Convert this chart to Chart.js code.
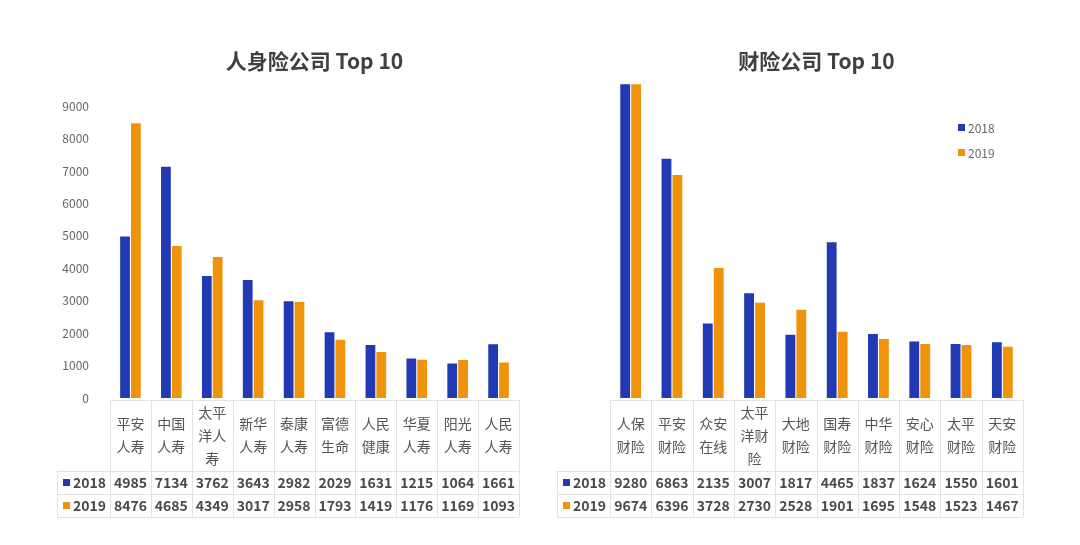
<!DOCTYPE html>
<html>
<head>
<meta charset="utf-8">
<script src="https://cdn.jsdelivr.net/npm/chart.js@4"></script>
<style>
html,body{margin:0;padding:0;background:#fff;}
#wrap{position:relative;width:1080px;height:545px;background:#fff;}
canvas{position:absolute;top:0;}
</style>
</head>
<body>
<div id="wrap">
<canvas id="c1" width="540" height="545" style="left:0"></canvas>
<canvas id="c2" width="540" height="545" style="left:540px"></canvas>
</div>
<script>
// ---------- data ----------
const lifeTitle = '人身险公司 Top 10';
const propTitle = '财险公司 Top 10';
const seriesNames = ['2018', '2019'];
const lifeCategories = [['平安','人寿'],['中国','人寿'],['太平','洋人','寿'],['新华','人寿'],['泰康','人寿'],['富德','生命'],['人民','健康'],['华夏','人寿'],['阳光','人寿'],['人民','人寿']];
const life2018 = [4985, 7134, 3762, 3643, 2982, 2029, 1631, 1215, 1064, 1661];
const life2019 = [8476, 4685, 4349, 3017, 2958, 1793, 1419, 1176, 1169, 1093];
const propCategories = [['人保','财险'],['平安','财险'],['众安','在线'],['太平','洋财','险'],['大地','财险'],['国寿','财险'],['中华','财险'],['安心','财险'],['太平','财险'],['天安','财险']];
const prop2018 = [9280, 6863, 2135, 3007, 1817, 4465, 1837, 1624, 1550, 1601];
const prop2019 = [9674, 6396, 3728, 2730, 2528, 1901, 1695, 1548, 1523, 1467];
const yTicks = [0, 1000, 2000, 3000, 4000, 5000, 6000, 7000, 8000, 9000];

// ---------- style ----------
const BLUE = '#2139b3';
const ORANGE = '#ef930b';
const FONT = '"Noto Sans CJK SC", "Noto Sans", sans-serif';
const LINE = '#e2e2e2';

const tablePlugin = {
  id: 'dataTable',
  afterDraw(chart, args, o) {
    const {ctx, chartArea, scales: {x}} = chart;
    const cats = chart.data.labels;
    const n = cats.length;
    const colW = (chartArea.right - chartArea.left) / n;
    const top = chartArea.bottom + 2;
    const catBottom = top + 71;
    const rowH = 23;
    const bottom = catBottom + 2 * rowH;
    const hl = o.headerLeft;
    ctx.save();
    ctx.strokeStyle = LINE;
    ctx.lineWidth = 1;
    ctx.beginPath();
    ctx.moveTo(chartArea.left, top + 0.5); ctx.lineTo(chartArea.right, top + 0.5);
    for (let r = 0; r <= 2; r++) {
      const yy = Math.round(catBottom + r * rowH) + 0.5;
      ctx.moveTo(hl, yy); ctx.lineTo(chartArea.right, yy);
    }
    ctx.moveTo(hl + 0.5, catBottom); ctx.lineTo(hl + 0.5, bottom);
    for (let i = 0; i <= n; i++) {
      const xx = Math.round(chartArea.left + i * colW) + 0.5;
      ctx.moveTo(xx, top); ctx.lineTo(xx, bottom);
    }
    ctx.stroke();

    ctx.textAlign = 'center';
    ctx.textBaseline = 'middle';
    ctx.fillStyle = '#555';
    ctx.font = '14px ' + FONT;
    const lh = 23;
    const midY = (top + catBottom) / 2;
    cats.forEach((lab, i) => {
      const cx = x.getPixelForValue(i);
      const lines = Array.isArray(lab) ? lab : [lab];
      const y0 = midY - (lines.length - 1) * lh / 2;
      lines.forEach((t, k) => ctx.fillText(t, cx, y0 + k * lh));
    });

    ctx.font = 'bold 14px ' + FONT;
    chart.data.datasets.forEach((ds, r) => {
      const cy = catBottom + r * rowH + rowH / 2 + 0.5;
      ctx.fillStyle = '#4a4a4a';
      ctx.textAlign = 'center';
      ds.data.forEach((v, i) => ctx.fillText(String(v), x.getPixelForValue(i), cy));
      ctx.fillStyle = ds.backgroundColor;
      ctx.fillRect(hl + 6, cy - 4, 7, 7);
      ctx.fillStyle = '#4a4a4a';
      ctx.textAlign = 'left';
      ctx.fillText(ds.label, hl + 16, cy);
    });
    ctx.restore();
  }
};

const legendPlugin = {
  id: 'sideLegend',
  afterDraw(chart, args, o) {
    if (!o.show) return;
    const {ctx} = chart;
    ctx.save();
    ctx.font = '12px ' + FONT;
    ctx.textBaseline = 'middle';
    ctx.textAlign = 'left';
    chart.data.datasets.forEach((ds, i) => {
      const cy = o.y + i * 25;
      ctx.fillStyle = ds.backgroundColor;
      ctx.fillRect(o.x, cy - 4, 7, 7);
      ctx.fillStyle = '#666';
      ctx.fillText(ds.label, o.x + 10, cy);
    });
    ctx.restore();
  }
};

function makeChart(id, title, cats, d1, d2, opts) {
  return new Chart(document.getElementById(id), {
    type: 'bar',
    data: {
      labels: cats,
      datasets: [
        {label: seriesNames[0], data: d1, backgroundColor: BLUE, categoryPercentage: 0.53, barPercentage: 0.9},
        {label: seriesNames[1], data: d2, backgroundColor: ORANGE, categoryPercentage: 0.53, barPercentage: 0.9}
      ]
    },
    options: {
      responsive: false,
      animation: false,
      devicePixelRatio: 1,
      layout: {padding: opts.padding},
      scales: {
        x: {display: false},
        y: {
          display: opts.showY,
          min: 0, max: 9000,
          grid: {display: false},
          border: {display: false},
          afterFit: (s) => { s.width = opts.yWidth; },
          afterBuildTicks: (s) => { s.ticks = yTicks.map(v => ({value: v})); },
          ticks: {padding: 13, color: '#666', font: {family: FONT, size: 12},
                  callback: (v) => String(v)}
        }
      },
      plugins: {
        legend: {display: false},
        tooltip: {enabled: false},
        title: {
          display: true, text: title, fullSize: false,
          color: '#404040',
          font: {family: FONT, size: 21, weight: 'bold'},
          padding: {top: 48, bottom: opts.titleBottom}
        },
        dataTable: {headerLeft: opts.headerLeft},
        sideLegend: opts.legend
      }
    },
    plugins: [tablePlugin, legendPlugin]
  });
}

makeChart('c1', lifeTitle, lifeCategories, life2018, life2019, {
  padding: {left: 58, right: 21, top: 0, bottom: 147},
  showY: true, yWidth: 52, titleBottom: 33, headerLeft: 57,
  legend: {show: false}
});
makeChart('c2', propTitle, propCategories, prop2018, prop2019, {
  padding: {left: 70, right: 57, top: 0, bottom: 147},
  showY: false, yWidth: 0, titleBottom: 11, headerLeft: 17,
  legend: {show: true, x: 418, y: 128}
});
</script>
</body>
</html>
